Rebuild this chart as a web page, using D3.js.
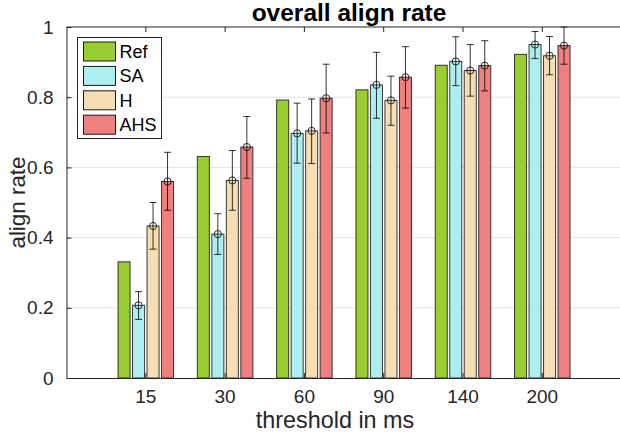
<!DOCTYPE html>
<html>
<head>
<meta charset="utf-8">
<script src="https://cdn.jsdelivr.net/npm/d3@7"></script>
<style>
  body { margin: 0; background: #fff; }
  svg { display: block; font-family: "Liberation Sans", Arial, Helvetica, sans-serif; }
</style>
</head>
<body>
<svg width="620" height="433"></svg>
<script>
// data
var categories = ["15", "30", "60", "90", "140", "200"];
var series = ["Ref", "SA", "H", "AHS"];
var colors = ["#9acd32", "#afeeee", "#f5deb3", "#f08080"];

var ref = [0.331, 0.631, 0.792, 0.821, 0.891, 0.922];
var sa  = [0.207, 0.410, 0.697, 0.835, 0.902, 0.950];
var h   = [0.433, 0.563, 0.704, 0.791, 0.876, 0.918];
var ahs = [0.560, 0.658, 0.797, 0.857, 0.890, 0.947];

// error bars (lower / upper ends), Ref has none
var saLow  = [0.167, 0.352, 0.612, 0.740, 0.833, 0.910];
var saHigh = [0.246, 0.468, 0.783, 0.928, 0.972, 0.987];
var hLow   = [0.367, 0.478, 0.611, 0.720, 0.803, 0.864];
var hHigh  = [0.500, 0.648, 0.795, 0.860, 0.950, 0.973];
var ahsLow  = [0.478, 0.569, 0.698, 0.769, 0.818, 0.894];
var ahsHigh = [0.643, 0.745, 0.894, 0.944, 0.961, 1.000];

var yTicks = [0, 0.2, 0.4, 0.6, 0.8, 1];

var values = [ref, sa, h, ahs];
var lows = [null, saLow, hLow, ahsLow];
var highs = [null, saHigh, hHigh, ahsHigh];

var svg = d3.select("svg"),
    pLeft = 66.5, pRight = 621.6, pTop = 27, pBottom = 378;

var x0 = d3.scaleBand().domain(categories).range([pLeft, pRight]).paddingInner(0).paddingOuter(0.5),
    x1 = d3.scaleBand().domain(series).range([0, x0.bandwidth()]).paddingInner(0.17).paddingOuter(0.82),
    y = d3.scaleLinear().domain([0, 1]).range([pBottom, pTop]);

// horizontal grid
svg.append("g").selectAll("line")
  .data(yTicks.slice(1, -1))
  .enter().append("line")
    .attr("x1", pLeft).attr("x2", pRight)
    .attr("y1", function(d) { return y(d); })
    .attr("y2", function(d) { return y(d); })
    .attr("stroke", "#e3e3e3").attr("stroke-width", 1);

// bars
var rows = [];
categories.forEach(function(c, i) {
  series.forEach(function(s, j) {
    rows.push({cat: c, ser: s, k: j, v: values[j][i],
               lo: lows[j] ? lows[j][i] : null, hi: highs[j] ? highs[j][i] : null});
  });
});

svg.append("g").selectAll("rect")
  .data(rows)
  .enter().append("rect")
    .attr("x", function(d) { return x0(d.cat) + x1(d.ser); })
    .attr("y", function(d) { return y(d.v); })
    .attr("width", x1.bandwidth())
    .attr("height", function(d) { return pBottom - y(d.v); })
    .attr("fill", function(d) { return colors[d.k]; })
    .attr("stroke", "#1a1a1a").attr("stroke-opacity", 0.85).attr("stroke-width", 1);

// error bars
var eb = svg.append("g").selectAll("g")
  .data(rows.filter(function(d) { return d.lo !== null; }))
  .enter().append("g")
    .attr("transform", function(d) { return "translate(" + (x0(d.cat) + x1(d.ser) + x1.bandwidth() / 2) + ",0)"; })
    .attr("stroke", "#000").attr("stroke-opacity", 0.8).attr("fill", "none");

eb.append("line")
  .attr("y1", function(d) { return y(d.lo); })
  .attr("y2", function(d) { return y(d.hi); });
eb.append("line")
  .attr("x1", -3.5).attr("x2", 3.5)
  .attr("y1", function(d) { return y(d.lo); })
  .attr("y2", function(d) { return y(d.lo); });
eb.append("line")
  .attr("x1", -3.5).attr("x2", 3.5)
  .attr("y1", function(d) { return y(d.hi); })
  .attr("y2", function(d) { return y(d.hi); });
eb.append("circle")
  .attr("cy", function(d) { return y(d.v); })
  .attr("r", 3.6);

// axes frame
svg.append("line").attr("x1", pLeft).attr("x2", pRight).attr("y1", pTop).attr("y2", pTop)
  .attr("stroke", "#262626").attr("stroke-width", 1);

var yAxis = svg.append("g")
  .attr("transform", "translate(" + pLeft + ",0)")
  .call(d3.axisLeft(y).tickValues(yTicks).tickFormat(d3.format("")).tickSizeInner(-5).tickSizeOuter(0).tickPadding(13));
yAxis.select(".domain").attr("stroke", "#262626");
yAxis.selectAll(".tick line").attr("stroke", "#262626");
yAxis.selectAll("text").attr("font-size", 19).attr("fill", "#262626").attr("font-family", null);

var xAxis = svg.append("g")
  .attr("transform", "translate(0," + pBottom + ")")
  .call(d3.axisBottom(x0).tickSizeInner(-5).tickSizeOuter(0).tickPadding(12));
xAxis.select(".domain").attr("stroke", "#262626");
xAxis.selectAll(".tick line").attr("stroke", "#262626");
xAxis.selectAll("text").attr("font-size", 19).attr("fill", "#262626").attr("font-family", null);

// top ticks
svg.append("g").selectAll("line")
  .data(categories)
  .enter().append("line")
    .attr("x1", function(d) { return x0(d) + x0.bandwidth() / 2; })
    .attr("x2", function(d) { return x0(d) + x0.bandwidth() / 2; })
    .attr("y1", pTop).attr("y2", pTop + 5)
    .attr("stroke", "#262626");

// labels
svg.append("text")
  .attr("x", 349).attr("y", 21)
  .attr("text-anchor", "middle")
  .attr("font-size", 24.5).attr("font-weight", "bold").attr("fill", "#000")
  .text("overall align rate");

svg.append("text")
  .attr("x", 335).attr("y", 428)
  .attr("text-anchor", "middle")
  .attr("font-size", 23.4).attr("fill", "#262626")
  .text("threshold in ms");

svg.append("text")
  .attr("transform", "translate(25," + ((pTop + pBottom) / 2) + ") rotate(-90)")
  .attr("text-anchor", "middle")
  .attr("font-size", 22.4).attr("fill", "#262626")
  .text("align rate");

// legend
var legend = svg.append("g").attr("transform", "translate(77.5,37.5)");
legend.append("rect")
  .attr("width", 84).attr("height", 101)
  .attr("fill", "#fff").attr("stroke", "#262626").attr("stroke-width", 1);

var item = legend.selectAll(".item")
  .data(series)
  .enter().append("g")
    .attr("class", "item")
    .attr("transform", function(d, i) { return "translate(6," + (4.5 + i * 24.4) + ")"; });
item.append("rect")
  .attr("width", 32).attr("height", 19)
  .attr("fill", function(d, i) { return colors[i]; })
  .attr("stroke", "#1a1a1a").attr("stroke-width", 1);
item.append("text")
  .attr("x", 36).attr("y", 16)
  .attr("font-size", 18).attr("fill", "#000")
  .text(function(d) { return d; });
</script>
</body>
</html>
